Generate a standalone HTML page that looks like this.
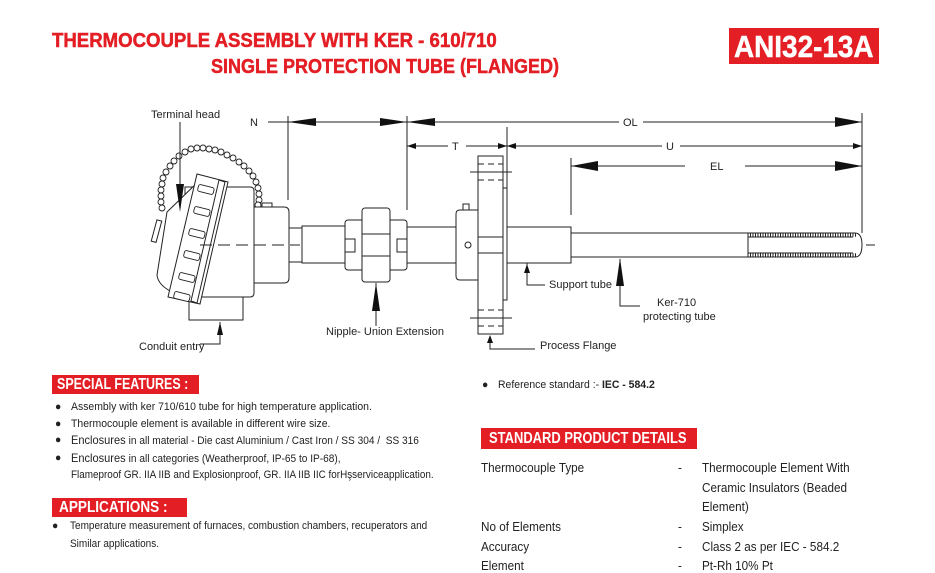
<!DOCTYPE html>
<html><head><meta charset="utf-8"><style>
body{margin:0;width:935px;height:562px;background:#fff;overflow:hidden;position:relative;font-family:"Liberation Sans",sans-serif;}
.t{position:absolute;white-space:nowrap;}
.h{font-weight:bold;color:#e31e24;font-size:20px;transform-origin:0 0;-webkit-text-stroke:0.5px #e31e24;}
.red{position:absolute;background:#e31e24;color:#fff;font-weight:bold;}
.sm{font-size:11px;color:#222;transform-origin:0 0;transform:scaleX(0.95);}
.md{font-size:13px;color:#222;transform-origin:0 0;transform:scaleX(0.9);}
</style></head><body>
<div class="t h" style="left:52px;top:30px;transform:scaleX(0.93);">THERMOCOUPLE ASSEMBLY WITH KER - 610/710</div>
<div class="t h" style="left:211px;top:56px;transform:scaleX(0.9);">SINGLE PROTECTION TUBE (FLANGED)</div>
<div class="red" style="left:729px;top:28px;width:150px;height:36px;"><div class="t" style="left:5px;top:1px;font-size:31px;transform-origin:0 0;transform:scaleX(0.9);-webkit-text-stroke:0.5px #fff;">ANI32-13A</div></div>

<svg width="935" height="562" style="position:absolute;left:0;top:0" font-family="Liberation Sans, sans-serif" font-size="11" fill="none" stroke="#222" stroke-width="1">
<line x1="200" y1="245" x2="875" y2="245" stroke-dasharray="12,6"/>
<line x1="262" y1="122" x2="862" y2="122"/>
<line x1="288" y1="116" x2="288" y2="200"/>
<line x1="407" y1="116" x2="407" y2="210"/>
<line x1="407" y1="146" x2="862" y2="146"/>
<line x1="507" y1="127" x2="507" y2="190"/>
<line x1="571" y1="166" x2="862" y2="166"/>
<line x1="571" y1="158" x2="571" y2="215"/>
<line x1="862" y1="113" x2="862" y2="233"/>
<g fill="#111" stroke="none">
<polygon points="288,122 316,118 316,126"/>
<polygon points="407,122 380,118 380,126"/>
<polygon points="407,122 435,118 435,126"/>
<polygon points="862,122 835,117 835,127"/>
<polygon points="407,146 416,143 416,149"/>
<polygon points="507,146 498,143 498,149"/>
<polygon points="507,146 516,143 516,149"/>
<polygon points="862,146 853,143 853,149"/>
<polygon points="571,166 598,161 598,171"/>
<polygon points="862,166 835,161 835,171"/>
</g>
<g fill="#fff" stroke="none">
<rect x="248" y="114" width="20" height="14"/><rect x="619" y="114" width="24" height="14"/>
<rect x="448" y="139" width="18" height="14"/><rect x="662" y="139" width="18" height="14"/>
<rect x="685" y="159" width="60" height="14"/>
</g>
<g fill="#222" stroke="none" font-size="11">
<text x="250" y="126">N</text><text x="623" y="126">OL</text><text x="452" y="150">T</text><text x="666" y="150">U</text><text x="710" y="170">EL</text>
</g>
<g stroke-width="0.9" fill="#fff">
<circle cx="162" cy="208" r="3"/><circle cx="161" cy="202" r="3"/><circle cx="161" cy="196" r="3"/><circle cx="161" cy="190" r="3"/><circle cx="162" cy="184" r="3"/><circle cx="163" cy="178" r="3"/><circle cx="166" cy="172" r="3"/><circle cx="170" cy="166" r="3"/><circle cx="174" cy="161" r="3"/><circle cx="179" cy="156" r="3"/><circle cx="185" cy="152" r="3"/><circle cx="191" cy="149" r="3"/><circle cx="197" cy="148" r="3"/><circle cx="203" cy="148" r="3"/><circle cx="209" cy="149" r="3"/><circle cx="215" cy="150" r="3"/><circle cx="221" cy="152" r="3"/><circle cx="227" cy="155" r="3"/><circle cx="233" cy="158" r="3"/><circle cx="239" cy="162" r="3"/><circle cx="244" cy="166" r="3"/><circle cx="249" cy="171" r="3"/><circle cx="253" cy="176" r="3"/><circle cx="256" cy="182" r="3"/><circle cx="258" cy="188" r="3"/><circle cx="259" cy="194" r="3"/><circle cx="259" cy="200" r="3"/><circle cx="258" cy="205" r="3"/>
</g>
<g fill="#fff">
<path d="M254,207 H284 Q289,207 289,212 V278 Q289,283 284,283 H254 Z"/>
<rect x="262" y="203" width="10" height="4"/>
<path d="M185,187 H250 Q254,187 254,191 V293 Q254,297 250,297 H185 Z"/>
<rect x="189" y="297" width="54" height="23"/>
<path d="M167,212 L200,180 L197,300 L172,292 Q158,285 157,275 Z"/>
<rect x="154" y="220" width="5" height="22" transform="rotate(15 156 231)"/>
<polygon points="197,174 228,182 200,304 168,297"/>
<polygon points="219,180 225,182 197,303 191,301"/>
</g>
<g fill="#fff" stroke-width="0.9">
<rect x="198" y="186" width="16" height="7" rx="2" transform="rotate(14 206 189)"/>
<rect x="194" y="208" width="16" height="7" rx="2" transform="rotate(14 202 211)"/>
<rect x="189" y="230" width="16" height="7" rx="2" transform="rotate(14 197 233)"/>
<rect x="184" y="252" width="16" height="7" rx="2" transform="rotate(14 192 255)"/>
<rect x="179" y="274" width="16" height="7" rx="2" transform="rotate(14 187 277)"/>
<rect x="174" y="293" width="16" height="7" rx="2" transform="rotate(14 182 296)"/>
</g>
<g fill="#fff">
<rect x="289" y="228" width="13" height="34"/>
<rect x="302" y="226" width="43" height="37"/>
<rect x="345" y="220" width="62" height="50" rx="3"/>
<rect x="362" y="208" width="28" height="74" rx="3"/>
<rect x="345" y="239" width="10" height="13"/><rect x="397" y="239" width="10" height="13"/>
<line x1="362" y1="234" x2="390" y2="234"/><line x1="362" y1="256" x2="390" y2="256"/>
<rect x="407" y="227" width="49" height="36"/>
<path d="M460,210 H478 V280 H460 Q456,280 456,276 V214 Q456,210 460,210 Z"/>
<rect x="463" y="204" width="6" height="6"/>
<circle cx="468" cy="245" r="3"/>
<rect x="478" y="156" width="25" height="178"/>
<rect x="503" y="188" width="4" height="112"/>
<rect x="507" y="227" width="64" height="36"/>
<path d="M571,233 H855 Q862,233 862,245 Q862,257 855,257 H571 Z"/>
<line x1="748" y1="237" x2="853" y2="237"/><line x1="748" y1="253" x2="853" y2="253"/>
<line x1="748" y1="233" x2="748" y2="257"/>
</g>
<line x1="750" y1="235" x2="856" y2="235" stroke-width="3.5" stroke-dasharray="1,1.5"/>
<line x1="750" y1="255" x2="856" y2="255" stroke-width="3.5" stroke-dasharray="1,1.5"/>
<line x1="478" y1="237" x2="503" y2="237"/><line x1="478" y1="253" x2="503" y2="253"/>
<line x1="470" y1="172" x2="512" y2="172"/><line x1="470" y1="318" x2="512" y2="318"/>
<line x1="478" y1="164" x2="503" y2="164" stroke-dasharray="6,4"/><line x1="478" y1="180" x2="503" y2="180" stroke-dasharray="6,4"/>
<line x1="478" y1="310" x2="503" y2="310" stroke-dasharray="6,4"/><line x1="478" y1="326" x2="503" y2="326" stroke-dasharray="6,4"/>
<line x1="200" y1="245" x2="300" y2="245" stroke-dasharray="12,6"/>
<line x1="180" y1="122" x2="180" y2="190"/><polygon points="180,212 176,184 184,184" fill="#111" stroke="none"/>
<path d="M220,322 V344 H200"/><polygon points="220,322 217,335 223,335" fill="#111" stroke="none"/>
<line x1="376" y1="283" x2="376" y2="326"/><polygon points="376,283 372,311 380,311" fill="#111" stroke="none"/>
<path d="M527,263 V285 H545"/><polygon points="527,264 524,273 530,273" fill="#111" stroke="none"/>
<path d="M620,259 V306 H640"/><polygon points="620,258 616,286 624,286" fill="#111" stroke="none"/>
<path d="M490,336 V349 H535"/><polygon points="490,335 487,343 493,343" fill="#111" stroke="none"/>
<g fill="#222" stroke="none" font-size="11">
<text x="151" y="118">Terminal head</text>
<text x="139" y="350">Conduit entry</text>
<text x="326" y="335">Nipple- Union Extension</text>
<text x="549" y="288">Support tube</text>
<text x="657" y="306">Ker-710</text><text x="643" y="320">protecting tube</text>
<text x="540" y="349">Process Flange</text>
</g>
</svg>

<div class="red" style="left:52px;top:375px;width:147px;height:19px;"><div class="t" style="left:5px;top:1px;font-size:16px;transform-origin:0 0;transform:scaleX(0.78);">SPECIAL FEATURES :</div></div>
<div class="t sm" style="left:55px;top:401px;">●</div><div class="t sm" style="left:71px;top:401px;">Assembly with ker 710/610 tube for high temperature application.</div>
<div class="t sm" style="left:55px;top:418px;">●</div><div class="t sm" style="left:71px;top:418px;">Thermocouple element is available in different wire size.</div>
<div class="t sm" style="left:55px;top:434px;">●</div><div class="t sm" style="left:71px;top:433px;font-size:12px;transform:scaleX(0.92);">Enclosures <span style="font-size:11px">in all material - Die cast Aluminium / Cast Iron / SS 304 /&nbsp; SS 316</span></div>
<div class="t sm" style="left:55px;top:452px;">●</div><div class="t sm" style="left:71px;top:451px;font-size:12px;transform:scaleX(0.92);">Enclosures <span style="font-size:11px">in all categories (Weatherproof, IP-65 to IP-68),</span></div>
<div class="t sm" style="left:71px;top:469px;transform:scaleX(0.9);">Flameproof GR. IIA IIB and Explosionproof, GR. IIA IIB IIC forHşserviceapplication.</div>
<div class="red" style="left:52px;top:498px;width:135px;height:19px;"><div class="t" style="left:7px;top:1px;font-size:16px;transform-origin:0 0;transform:scaleX(0.85);">APPLICATIONS :</div></div>
<div class="t sm" style="left:52px;top:520px;">●</div><div class="t sm" style="left:70px;top:520px;transform:scaleX(0.91);">Temperature measurement of furnaces, combustion chambers, recuperators and</div>
<div class="t sm" style="left:70px;top:538px;transform:scaleX(0.91);">Similar applications.</div>

<div class="t sm" style="left:482px;top:379px;">●</div><div class="t sm" style="left:498px;top:379px;">Reference standard :- <b>IEC - 584.2</b></div>
<div class="red" style="left:481px;top:428px;width:216px;height:21px;"><div class="t" style="left:8px;top:2px;font-size:16px;transform-origin:0 0;transform:scaleX(0.81);">STANDARD PRODUCT DETAILS</div></div>
<div class="t md" style="left:481px;top:460px;">Thermocouple Type</div><div class="t md" style="left:678px;top:460px;">-</div>
<div class="t md" style="left:702px;top:460px;">Thermocouple Element With</div>
<div class="t md" style="left:702px;top:480px;">Ceramic Insulators (Beaded</div>
<div class="t md" style="left:702px;top:499px;">Element)</div>
<div class="t md" style="left:481px;top:519px;">No of Elements</div><div class="t md" style="left:678px;top:519px;">-</div><div class="t md" style="left:702px;top:519px;">Simplex</div>
<div class="t md" style="left:481px;top:539px;">Accuracy</div><div class="t md" style="left:678px;top:539px;">-</div><div class="t md" style="left:702px;top:539px;">Class 2 as per IEC - 584.2</div>
<div class="t md" style="left:481px;top:558px;">Element</div><div class="t md" style="left:678px;top:558px;">-</div><div class="t md" style="left:702px;top:558px;">Pt-Rh 10% Pt</div>
</body></html>
